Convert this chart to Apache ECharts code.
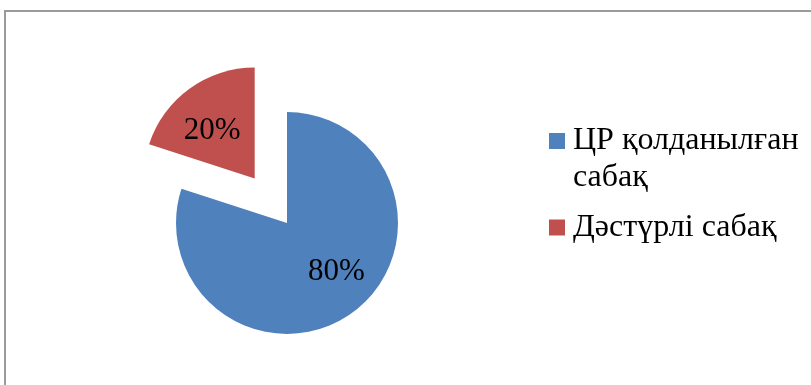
<!DOCTYPE html>
<html>
<head>
<meta charset="utf-8">
<script src="https://cdn.jsdelivr.net/npm/echarts@6/dist/echarts.min.js"></script>
<style>
html,body{margin:0;padding:0;background:#fff;}
#chart{width:811px;height:385px;}
</style>
</head>
<body>
<div id="chart"></div>
<script>
const categories = ['ЦР қолданылған сабақ', 'Дәстүрлі сабақ'];
const values = [80, 20];
const legendLabels = ['\nЦР қолданылған\nсабақ', 'Дәстүрлі сабақ'];
const colors = ['#4F81BD', '#C0504D'];

const FONT = '"Liberation Serif", "Times New Roman", serif';
const LH = 37;

const chart = echarts.init(document.getElementById('chart'), null, {renderer: 'canvas'});
const labelOffsets = [[15, 2], [-8, 0]];
const legendCommon = {
  orient: 'vertical',
  left: 549,
  padding: 0,
  itemWidth: 16,
  itemHeight: 16,
  icon: 'rect',
  selectedMode: false,
  textStyle: {fontFamily: FONT, fontSize: 32, color: '#000', lineHeight: LH, padding: [0, 0, 0, 3]}
};
const option = {
  animation: false,
  backgroundColor: '#fff',
  graphic: [{
    type: 'polyline',
    shape: {points: [[5, 385], [5, 11], [811, 11]]},
    style: {stroke: '#9a9a9a', lineWidth: 2, fill: null},
    silent: true
  }],
  legend: [
    Object.assign({}, legendCommon, {
      data: [categories[0]],
      top: 141 - 1.5 * LH,
      formatter: () => legendLabels[0]
    }),
    Object.assign({}, legendCommon, {
      data: [categories[1]],
      top: 227.5 - LH / 2,
      formatter: () => legendLabels[1]
    })
  ],
  series: [{
    type: 'pie',
    center: [287, 223],
    radius: [0, 111],
    startAngle: 90,
    clockwise: true,
    selectedMode: 'single',
    selectedOffset: 55,
    emphasis: {disabled: true},
    itemStyle: {borderWidth: 0},
    label: {
      show: true,
      position: 'inside',
      fontFamily: FONT,
      fontSize: 31,
      color: '#000',
      formatter: p => p.value + '%'
    },
    select: {
      itemStyle: {borderWidth: 0},
      label: {show: true, fontFamily: FONT, fontSize: 31, color: '#000'}
    },
    labelLine: {show: false},
    data: categories.map((c, i) => ({
      name: c,
      value: values[i],
      selected: i === 1,
      itemStyle: {color: colors[i]},
      label: {offset: labelOffsets[i]},
      select: {label: {offset: labelOffsets[i]}}
    }))
  }]
};
chart.setOption(option);
</script>
</body>
</html>
